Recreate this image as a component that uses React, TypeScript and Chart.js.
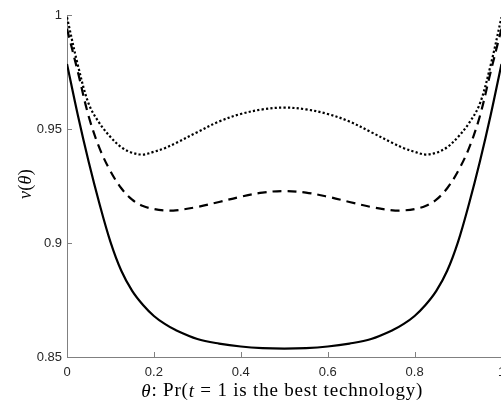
import React, { useEffect, useRef } from 'react';
import { Chart, registerables } from 'chart.js';

Chart.register(...registerables);

// θ grid
const theta = [0, 0.025, 0.05, 0.075, 0.1, 0.125, 0.15, 0.175, 0.2, 0.225, 0.25, 0.3, 0.35, 0.4, 0.45, 0.5,
  0.55, 0.6, 0.65, 0.7, 0.75, 0.775, 0.8, 0.825, 0.85, 0.875, 0.9, 0.925, 0.95, 0.975, 1];

// ν(θ) series
const solidSeries = [0.9785, 0.956, 0.9355, 0.917, 0.9005, 0.8878, 0.879, 0.8728, 0.868, 0.8645, 0.8618, 0.8579, 0.8559, 0.8546, 0.8539, 0.8537,
  0.8539, 0.8546, 0.8559, 0.8579, 0.8618, 0.8645, 0.868, 0.8728, 0.879, 0.8878, 0.9005, 0.917, 0.9355, 0.956, 0.9785];
const dashedSeries = [0.994, 0.975, 0.9555, 0.9415, 0.9315, 0.924, 0.919, 0.9162, 0.9149, 0.9143, 0.9143, 0.9158, 0.918, 0.9203, 0.9221, 0.9228,
  0.9221, 0.9203, 0.918, 0.9158, 0.9143, 0.9143, 0.9149, 0.9162, 0.919, 0.924, 0.9315, 0.9415, 0.9555, 0.975, 0.994];
const dottedSeries = [0.999, 0.978, 0.961, 0.9525, 0.9465, 0.942, 0.9396, 0.9388, 0.94, 0.9416, 0.9438, 0.9486, 0.9533, 0.9566, 0.9586, 0.9594,
  0.9586, 0.9566, 0.9533, 0.9486, 0.9438, 0.9416, 0.94, 0.9388, 0.9396, 0.942, 0.9465, 0.9525, 0.961, 0.978, 0.999];

// ticks
const xTickValues = [0, 0.2, 0.4, 0.6, 0.8, 1];
const xTickLabels = ['0', '0.2', '0.4', '0.6', '0.8', '1'];
const yTickValues = [0.85, 0.9, 0.95, 1];
const yTickLabels = ['0.85', '0.9', '0.95', '1'];

// titles: [text, italic]
const xTitleParts: [string, boolean][] = [['θ', true], [': Pr(', false], ['t', true], [' = 1 is the best technology)', false]];
const yTitleParts: [string, boolean][] = [['ν', true], ['(', false], ['θ', true], [')', false]];

const CANVAS_W = 560;
const CANVAS_H = 400;
const AXIS_COLOR = '#808080';
const TEXT_COLOR = '#262626';
const TITLE_FONT = '"Liberation Serif", serif';

function drawParts(ctx: CanvasRenderingContext2D, parts: [string, boolean][], cx: number, cy: number, size: number, spacing: number) {
  const fonts = parts.map(([, it]) => `${it ? 'italic ' : ''}${size}px ${TITLE_FONT}`);
  (ctx as any).letterSpacing = `${spacing}px`;
  let total = 0;
  const widths = parts.map(([t], i) => {
    ctx.font = fonts[i];
    const w = ctx.measureText(t).width;
    total += w;
    return w;
  });
  let x = cx - total / 2;
  ctx.textAlign = 'left';
  ctx.textBaseline = 'middle';
  parts.forEach(([t], i) => {
    ctx.font = fonts[i];
    ctx.fillText(t, x, cy);
    x += widths[i];
  });
  (ctx as any).letterSpacing = '0px';
}

const decorPlugin = {
  id: 'decor',
  afterDraw(chart: any) {
    const ctx: CanvasRenderingContext2D = chart.ctx;
    const ca = chart.chartArea;
    const xs = chart.scales.x;
    const ys = chart.scales.y;
    ctx.save();
    // inward tick marks
    ctx.strokeStyle = AXIS_COLOR;
    ctx.lineWidth = 1;
    ctx.beginPath();
    xTickValues.forEach((v) => {
      const px = Math.round(xs.getPixelForValue(v)) + 0.5;
      ctx.moveTo(px, ca.bottom);
      ctx.lineTo(px, ca.bottom - 5);
    });
    yTickValues.forEach((v) => {
      const py = Math.round(ys.getPixelForValue(v)) + 0.5;
      ctx.moveTo(ca.left, py);
      ctx.lineTo(ca.left + 5, py);
    });
    ctx.stroke();
    // titles
    ctx.fillStyle = '#000';
    drawParts(ctx, xTitleParts, (ca.left + ca.right) / 2 - 2, 391.5, 19, 0.8);
    ctx.translate(26, (ca.top + ca.bottom) / 2 - 2);
    ctx.rotate(-Math.PI / 2);
    drawParts(ctx, yTitleParts, 0, 0, 18, 0.3);
    ctx.restore();
  },
};

export default function App() {
  const ref = useRef<HTMLCanvasElement | null>(null);
  useEffect(() => {
    if (!ref.current) return;
    const mk = (vals: number[]) => theta.map((t, i) => ({ x: t, y: vals[i] }));
    const common = {
      borderColor: '#000',
      backgroundColor: '#000',
      pointRadius: 0,
      fill: false,
      tension: 0.35,
      borderCapStyle: 'butt' as const,
    };
    const chart = new Chart(ref.current, {
      type: 'line',
      data: {
        datasets: [
          { ...common, label: 'solid', data: mk(solidSeries), borderWidth: 2.2 },
          { ...common, label: 'dashed', data: mk(dashedSeries), borderWidth: 2.2, borderDash: [9, 6] },
          { ...common, label: 'dotted', data: mk(dottedSeries), borderWidth: 2.2, borderDash: [2.2, 2.2] },
        ],
      },
      options: {
        animation: false,
        responsive: false,
        maintainAspectRatio: false,
        devicePixelRatio: 1,
        layout: { padding: { left: 0, top: 15, right: CANVAS_W - 501.5, bottom: 0 } },
        plugins: { legend: { display: false }, tooltip: { enabled: false } },
        scales: {
          x: {
            type: 'linear',
            min: 0,
            max: 1,
            afterBuildTicks: (s: any) => { s.ticks = xTickValues.map((v) => ({ value: v })); },
            afterFit: (s: any) => { s.height = 43; },
            grid: { display: false, drawTicks: false },
            border: { display: true, color: AXIS_COLOR, width: 1 },
            ticks: {
              padding: 8,
              color: TEXT_COLOR,
              font: { family: '"Liberation Sans", Arial, sans-serif', size: 13 },
              maxRotation: 0,
              autoSkip: false,
              callback: (v: any) => { const i = xTickValues.indexOf(Number(v)); return i >= 0 ? xTickLabels[i] : ''; },
            },
          },
          y: {
            type: 'linear',
            min: 0.85,
            max: 1,
            afterBuildTicks: (s: any) => { s.ticks = yTickValues.map((v) => ({ value: v })); },
            afterFit: (s: any) => { s.width = 67; },
            grid: { display: false, drawTicks: false },
            border: { display: true, color: AXIS_COLOR, width: 1 },
            ticks: {
              padding: 5,
              color: TEXT_COLOR,
              font: { family: '"Liberation Sans", Arial, sans-serif', size: 13 },
              autoSkip: false,
              callback: (v: any) => { const i = yTickValues.indexOf(Number(v)); return i >= 0 ? yTickLabels[i] : ''; },
            },
          },
        },
      },
      plugins: [decorPlugin],
    });
    return () => chart.destroy();
  }, []);
  return (
    <div style={{ position: 'absolute', left: 0, top: 0, width: 501, height: 400, overflow: 'hidden', background: '#fff' }}>
      <canvas ref={ref} width={CANVAS_W} height={CANVAS_H} style={{ width: CANVAS_W, height: CANVAS_H, display: 'block' }} />
    </div>
  );
}
